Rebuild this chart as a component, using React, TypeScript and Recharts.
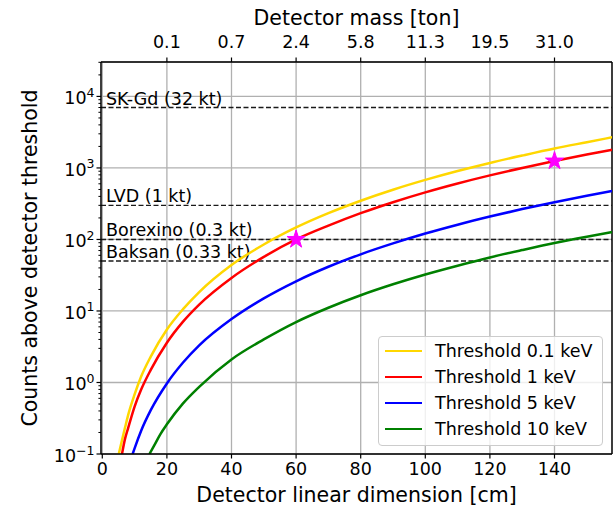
import React from "react";
import { ComposedChart, Line, Scatter, XAxis, YAxis, CartesianGrid, ReferenceLine } from "recharts";

const FONT = "'DejaVu Sans', Verdana, sans-serif";

// axes
const X_MIN = -0.4;
const X_MAX = 157.8;
const Y_MIN = 0.1;
const Y_MAX = 30300;
const lengthTicks = [0, 20, 40, 60, 80, 100, 120, 140];
const massTicks = [20, 40, 60, 80, 100, 120, 140];
const massLabels = ["0.1", "0.7", "2.4", "5.8", "11.3", "19.5", "31.0"];
const countTicks = [0.1, 1, 10, 100, 1000, 10000];

// curves: detector linear dimension [cm] -> counts above threshold
const len01 = [5.1, 6, 7, 8, 10, 12, 15, 20, 25, 30, 40, 50, 60, 70, 80, 90, 100, 110, 120, 130, 140, 150, 158];
const counts01 = [0.1, 0.15, 0.23, 0.35, 0.68, 1.2, 2.3, 5.5, 10.6, 18.4, 44, 85, 147, 233, 348, 496, 680, 905, 1175, 1490, 1870, 2290, 2690];

const len1 = [6.1, 7, 8, 10, 12, 15, 20, 25, 30, 40, 50, 60, 70, 80, 90, 100, 110, 120, 130, 140, 150, 158];
const counts1 = [0.1, 0.16, 0.23, 0.46, 0.79, 1.5, 3.6, 7.1, 12.3, 29, 57, 100, 156, 233, 332, 456, 607, 788, 1000, 1250, 1540, 1800];

const len5 = [9.4, 10, 12, 15, 20, 25, 30, 40, 50, 60, 70, 80, 90, 100, 110, 120, 130, 140, 150, 158];
const counts5 = [0.1, 0.12, 0.21, 0.41, 0.97, 1.9, 3.3, 7.7, 15, 26, 41.5, 62, 88, 121, 161, 209, 266, 332, 408, 477];

const len10 = [14.6, 16, 18, 20, 25, 30, 40, 50, 60, 70, 80, 90, 100, 110, 120, 130, 140, 150, 158];
const counts10 = [0.1, 0.13, 0.19, 0.26, 0.51, 0.87, 2.1, 4.0, 7.0, 11.1, 16.6, 23.6, 32.4, 43, 56, 71, 89, 109, 127];

const seriesNames = ["Threshold 0.1 keV", "Threshold 1 keV", "Threshold 5 keV", "Threshold 10 keV"];
const seriesColors = ["#FFD700", "#FF0000", "#0000FF", "#008000"];

// existing detectors
const detectorNames = ["SK-Gd (32 kt)", "LVD (1 kt)", "Borexino (0.3 kt)", "Baksan (0.33 kt)"];
const detectorCounts = [7000, 300, 100, 50];

// highlighted points
const starLength = [60, 140];
const starCounts = [100, 1250];

const toPoints = (xs: number[], ys: number[]) => xs.map((x, i) => ({ x, y: ys[i] }));
const series = [
  toPoints(len01, counts01),
  toPoints(len1, counts1),
  toPoints(len5, counts5),
  toPoints(len10, counts10),
];
const stars = toPoints(starLength, starCounts);

const minorTicks: number[] = [];
for (let d = -1; d <= 4; d++) {
  for (let k = 2; k <= 9; k++) {
    const v = k * Math.pow(10, d);
    if (v < Y_MAX) minorTicks.push(v);
  }
}

const Star = ({ cx, cy }: any) => {
  const R = 9.5;
  const r = R * 0.382;
  const pts: string[] = [];
  for (let i = 0; i < 10; i++) {
    const a = -Math.PI / 2 + (i * Math.PI) / 5;
    const rad = i % 2 === 0 ? R : r;
    pts.push(`${cx + rad * Math.cos(a)},${cy + rad * Math.sin(a)}`);
  }
  return <polygon points={pts.join(" ")} fill="#FF00FF" stroke="#FF00FF" strokeWidth={1} />;
};

const YTick = ({ x, y, payload }: any) => {
  const exp = Math.round(Math.log10(payload.value));
  const e = exp < 0 ? "\u2212" + Math.abs(exp) : String(exp);
  return (
    <text x={x} y={y + 8} textAnchor="end" fontSize={17.5} fill="#000" fontFamily={FONT}>
      <tspan>10</tspan>
      <tspan dy={-7.5} fontSize={12.5}>{e}</tspan>
    </text>
  );
};

const BottomTick = ({ x, y, payload }: any) => (
  <text x={x} y={y + 13} textAnchor="middle" fontSize={17.5} fill="#000" fontFamily={FONT}>
    {payload.value}
  </text>
);

const TopTick = ({ x, y, payload }: any) => (
  <text x={x} y={y - 7} textAnchor="middle" fontSize={17.5} fill="#000" fontFamily={FONT}>
    {massLabels[massTicks.indexOf(payload.value)]}
  </text>
);

const Legend = () => (
  <div
    style={{
      position: "absolute",
      left: 378,
      top: 336,
      width: 225,
      height: 110,
      background: "rgba(255,255,255,0.8)",
      border: "1px solid #cccccc",
      borderRadius: 4,
      boxSizing: "border-box",
      fontFamily: FONT,
      fontSize: 17.5,
    }}
  >
    {seriesNames.map((name, i) => (
      <div key={name} style={{ position: "absolute", left: 0, top: 14 + i * 26 }}>
        <div
          style={{
            position: "absolute",
            left: 6,
            top: -1.5,
            width: 37,
            height: 2.8,
            background: seriesColors[i],
          }}
        />
        <span style={{ position: "absolute", left: 56, top: -11, whiteSpace: "nowrap", lineHeight: "22px" }}>
          {name}
        </span>
      </div>
    ))}
  </div>
);

export default function App() {
  return (
    <div style={{ position: "absolute", left: 0, top: 0, width: 613, height: 510, background: "#fff" }}>
      <ComposedChart width={613} height={510} margin={{ top: 0, right: 1, bottom: 0, left: 0 }}>
        <CartesianGrid stroke="#b0b0b0" strokeWidth={1.3} />
        <XAxis
          dataKey="x"
          type="number"
          domain={[X_MIN, X_MAX]}
          ticks={lengthTicks}
          interval={0}
          allowDataOverflow
          height={56}
          tickSize={4.5}
          tickMargin={3}
          tick={<BottomTick />}
          axisLine={{ stroke: "#000", strokeWidth: 1.4 }}
          tickLine={{ stroke: "#000", strokeWidth: 1.2 }}
          label={{
            content: ({ viewBox }: any) => (
              <text
                x={viewBox.x + viewBox.width / 2}
                y={501.5}
                textAnchor="middle"
                fontSize={20.5}
                fill="#000"
                fontFamily={FONT}
              >
                Detector linear dimension [cm]
              </text>
            ),
          }}
        />
        <XAxis
          xAxisId="top"
          dataKey="x"
          type="number"
          orientation="top"
          domain={[X_MIN, X_MAX]}
          ticks={massTicks}
          interval={0}
          allowDataOverflow
          height={62}
          tickSize={4.5}
          tickMargin={3}
          tick={<TopTick />}
          axisLine={{ stroke: "#000", strokeWidth: 1.4 }}
          tickLine={{ stroke: "#000", strokeWidth: 1.2 }}
          label={{
            content: ({ viewBox }: any) => (
              <text
                x={viewBox.x + viewBox.width / 2}
                y={24.5}
                textAnchor="middle"
                fontSize={20.5}
                fill="#000"
                fontFamily={FONT}
              >
                Detector mass [ton]
              </text>
            ),
          }}
        />
        <YAxis
          type="number"
          scale="log"
          domain={[Y_MIN, Y_MAX]}
          ticks={countTicks}
          interval={0}
          allowDataOverflow
          width={101}
          tickSize={4.5}
          tickMargin={2}
          tick={<YTick />}
          axisLine={{ stroke: "#000", strokeWidth: 1.4 }}
          tickLine={{ stroke: "#000", strokeWidth: 1.2 }}
          label={{
            content: ({ viewBox }: any) => {
              const cy = viewBox.y + viewBox.height / 2;
              return (
                <text
                  x={37}
                  y={cy}
                  transform={`rotate(-90 37 ${cy})`}
                  textAnchor="middle"
                  fontSize={20.5}
                  fill="#000"
                  fontFamily={FONT}
                >
                  Counts above detector threshold
                </text>
              );
            },
          }}
        />
        {minorTicks.map((v) => (
          <ReferenceLine
            key={"m" + v}
            segment={[
              { x: X_MIN, y: v },
              { x: X_MIN - 0.8, y: v },
            ]}
            stroke="#000"
            strokeWidth={1}
            ifOverflow="visible"
          />
        ))}
        <ReferenceLine x={X_MAX} stroke="#000" strokeWidth={1.4} ifOverflow="visible" />
        {detectorNames.map((name, i) => (
          <ReferenceLine
            key={name}
            y={detectorCounts[i]}
            stroke="#1a1a1a"
            strokeWidth={1.4}
            strokeDasharray="5 2.5"
            label={(p: any) => (
              <text x={p.viewBox.x + 5} y={p.viewBox.y - 3} fontSize={17.5} fill="#000" fontFamily={FONT}>
                {name}
              </text>
            )}
          />
        ))}
        {series.map((d, i) => (
          <Line
            key={seriesNames[i]}
            data={d}
            dataKey="y"
            name={seriesNames[i]}
            type="monotone"
            stroke={seriesColors[i]}
            strokeWidth={2.5}
            dot={false}
            activeDot={false}
            isAnimationActive={false}
          />
        ))}
        <Scatter data={stars} dataKey="y" shape={<Star />} isAnimationActive={false} />
      </ComposedChart>
      <Legend />
    </div>
  );
}
